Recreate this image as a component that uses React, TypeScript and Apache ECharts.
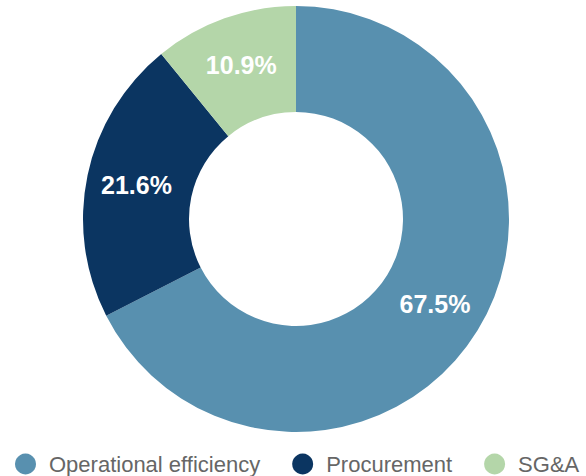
import React, { useEffect, useRef } from "react";
import * as echarts from "echarts";

const categories = ["Operational efficiency", "Procurement", "SG&A"];
const values = [67.5, 21.6, 10.9];
const colors = ["#5890af", "#0b3561", "#b4d6a9"];

export default function App() {
  const ref = useRef<HTMLDivElement>(null);
  useEffect(() => {
    document.body.style.margin = "0";
    const chart = echarts.init(ref.current!, undefined, { renderer: "svg" });
    chart.setOption({
      animation: false,
      color: colors,
      legend: {
        left: 10,
        top: 448,
        itemWidth: 21,
        itemHeight: 21,
        itemGap: 32,
        icon: "circle",
        textStyle: {
          fontSize: 22,
          lineHeight: 22,
          color: "#666666",
          fontFamily: "Liberation Sans, Arial, sans-serif",
          padding: [0, 0, 0, 8],
        },
        data: categories,
      },
      series: [
        {
          type: "pie",
          center: [296, 219],
          radius: [107, 213],
          startAngle: 90,
          clockwise: true,
          avoidLabelOverlap: false,
          label: {
            show: true,
            position: "inside",
            formatter: (p: any) => p.value.toFixed(1) + "%",
            color: "#ffffff",
            fontSize: 25,
            fontWeight: "bold",
            fontFamily: "Liberation Sans, Arial, sans-serif",
          },
          labelLine: { show: false },
          emphasis: { disabled: true },
          data: categories.map((name, i) => ({ name, value: values[i] })),
        },
      ],
    });
    return () => chart.dispose();
  }, []);
  return <div ref={ref} style={{ width: 586, height: 476 }} />;
}
